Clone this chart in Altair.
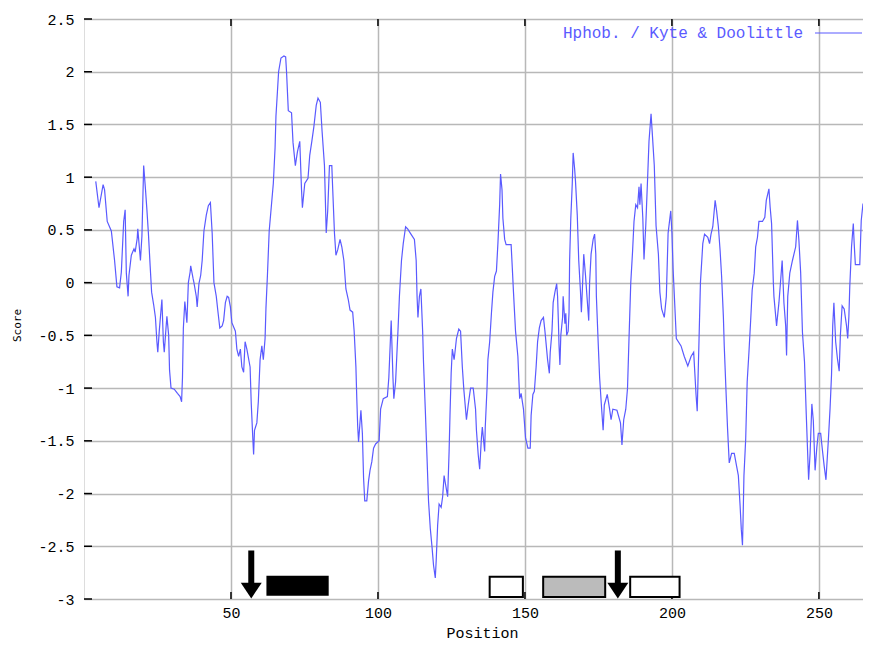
import altair as alt
import pandas as pd

positions = [
    4.0, 5.1, 6.5, 7.0, 7.9, 9.3, 10.4, 11.2, 12.1, 12.7, 13.5, 14.0, 14.4, 15.0, 15.3, 16.1, 17.0, 17.4,
    18.1, 18.3, 19.2, 19.7, 20.3, 20.9, 21.4, 21.9, 22.5, 23.0, 23.7, 24.3, 24.8, 25.1, 25.6, 26.2, 26.5,
    27.0, 27.3, 27.9, 28.2, 28.8, 29.1, 29.6, 30.7, 31.8, 32.7, 33.2, 33.5, 33.8, 34.3, 34.6, 35.0, 35.5,
    36.1, 36.3, 37.1, 37.4, 38.2, 38.5, 39.1, 39.7, 40.2, 40.8, 41.6, 42.3, 43.0, 43.6, 44.2, 45.0, 45.5,
    46.2, 47.0, 47.5, 48.1, 48.7, 49.2, 49.8, 50.3, 51.5, 52.0, 52.6, 53.2, 53.7, 54.3, 54.8, 55.4, 56.5,
    56.9, 57.4, 57.7, 58.0, 58.8, 59.3, 59.9, 60.5, 61.0, 61.6, 61.9, 62.4, 63.0, 64.4, 65.0, 65.3, 65.8,
    66.2, 67.0, 68.0, 68.6, 68.9, 69.5, 70.6, 71.1, 71.9, 72.6, 73.4, 74.0, 74.3, 75.1, 76.2, 76.8, 77.5,
    78.2, 79.0, 79.6, 80.4, 81.0, 81.8, 82.4, 82.9, 83.5, 84.3, 84.6, 85.2, 85.7, 86.3, 87.1, 87.7, 88.4,
    89.1, 89.9, 90.5, 91.4, 91.9, 92.5, 92.8, 93.1, 93.4, 93.8, 94.2, 94.7, 95.1, 95.5, 96.2, 96.8, 97.3,
    97.9, 98.5, 99.2, 100.4, 100.9, 101.8, 103.2, 103.7, 104.5, 105.1, 105.4, 106.0, 106.8, 107.3, 108.0,
    108.6, 109.4, 110.1, 111.0, 112.4, 113.0, 113.3, 113.6, 114.1, 114.6, 115.2, 115.5, 116.1, 116.7,
    117.2, 117.8, 118.4, 118.9, 119.5, 119.8, 120.3, 120.8, 121.5, 122.0, 122.5, 123.1, 123.7, 124.2,
    124.5, 124.9, 125.3, 125.9, 126.2, 126.7, 127.5, 128.1, 128.7, 129.2, 130.1, 130.7, 131.5, 132.4,
    133.2, 133.5, 134.1, 134.6, 135.2, 135.5, 136.3, 136.5, 137.1, 137.4, 138.0, 138.6, 139.1, 139.7,
    140.3, 140.8, 141.4, 141.7, 142.2, 142.5, 143.1, 143.6, 145.3, 145.7, 146.1, 146.8, 147.6, 148.2,
    148.7, 149.5, 150.2, 151.0, 151.8, 152.1, 152.7, 153.2, 153.8, 154.3, 154.9, 155.5, 156.3, 156.8,
    157.7, 158.3, 158.6, 159.2, 159.6, 160.2, 160.8, 161.1, 161.4, 161.6, 161.9, 162.2, 162.8, 163.0,
    163.6, 163.9, 164.2, 164.7, 165.0, 165.2, 165.6, 166.1, 166.4, 166.9, 167.2, 167.8, 168.3, 168.9,
    169.2, 169.5, 170.0, 170.6, 171.1, 171.7, 172.0, 172.5, 173.2, 173.7, 174.1, 174.3, 174.9, 175.4,
    176.0, 176.6, 177.0, 178.0, 178.8, 179.3, 179.9, 181.3, 182.5, 183.0, 183.6, 184.3, 184.9, 185.4,
    186.0, 186.6, 187.1, 187.7, 188.3, 188.8, 189.1, 189.5, 190.1, 190.5, 191.1, 191.8, 192.2, 192.9,
    193.4, 194.0, 194.6, 195.4, 195.9, 196.5, 197.4, 198.1, 198.7, 199.6, 200.0, 200.4, 201.5, 203.1,
    204.2, 205.4, 206.5, 207.4, 208.2, 208.6, 209.2, 209.7, 210.5, 211.1, 212.2, 212.8, 213.3, 213.9,
    214.7, 215.2, 215.8, 216.4, 216.9, 217.5, 217.8, 218.4, 218.9, 219.5, 220.3, 221.2, 222.0, 222.6,
    223.2, 223.6, 224.0, 224.2, 224.5, 225.1, 225.6, 226.2, 226.8, 227.3, 228.0, 228.5, 229.1, 229.6,
    230.8, 231.6, 232.1, 233.0, 233.4, 233.9, 234.5, 234.7, 235.6, 236.4, 237.5, 238.1, 238.7, 239.0,
    239.4, 240.1, 241.0, 242.1, 242.7, 243.2, 243.8, 244.4, 245.1, 245.7, 246.1, 246.5, 247.0, 247.6,
    248.1, 248.7, 249.3, 249.8, 250.6, 251.2, 251.8, 252.4, 253.2, 253.8, 254.3, 254.7, 255.1, 255.7,
    256.3, 256.9, 257.3, 257.9, 258.6, 259.4, 259.8, 260.2, 260.5, 261.1, 261.7, 262.0, 262.4, 263.9,
    264.4, 265.0,
]

scores = [
    0.96, 0.71, 0.93, 0.88, 0.58, 0.49, 0.21, -0.04, -0.05, 0.10, 0.58, 0.69, 0.09, -0.13, 0.07, 0.26, 0.32, 0.29,
    0.42, 0.51, 0.21, 0.44, 1.11, 0.89, 0.69, 0.47, 0.16, -0.09, -0.21, -0.33, -0.56, -0.66, -0.46, -0.26, -0.16,
    -0.56, -0.66, -0.43, -0.32, -0.50, -0.83, -1.00, -1.01, -1.05, -1.08, -1.13, -0.90, -0.43, -0.18, -0.26, -0.38, 0.00,
    0.10, 0.16, 0.04, 0.00, -0.13, -0.23, -0.01, 0.07, 0.21, 0.49, 0.64, 0.73, 0.76, 0.47, 0.00, -0.13, -0.26,
    -0.43, -0.41, -0.36, -0.19, -0.13, -0.14, -0.23, -0.38, -0.46, -0.63, -0.70, -0.63, -0.80, -0.85, -0.56, -0.63, -0.80,
    -1.15, -1.46, -1.63, -1.40, -1.33, -1.13, -0.73, -0.60, -0.73, -0.53, -0.24, 0.07, 0.49, 0.94, 1.28, 1.58, 1.81,
    2.00, 2.13, 2.15, 2.14, 2.00, 1.63, 1.61, 1.33, 1.11, 1.24, 1.34, 0.88, 0.71, 0.94, 0.99, 1.21, 1.34,
    1.48, 1.68, 1.75, 1.71, 1.43, 1.11, 0.47, 0.68, 1.11, 1.11, 0.89, 0.47, 0.26, 0.31, 0.41, 0.34, 0.21,
    -0.06, -0.16, -0.26, -0.28, -0.46, -0.80, -1.10, -1.36, -1.51, -1.36, -1.21, -1.43, -1.85, -2.07, -2.07, -1.88, -1.78,
    -1.70, -1.57, -1.53, -1.50, -1.20, -1.10, -1.08, -0.90, -0.36, -0.90, -1.10, -0.94, -0.46, -0.13, 0.21,
    0.37, 0.53, 0.51, 0.47, 0.41, 0.21, -0.13, -0.33, -0.13, -0.06, -0.46, -0.76, -1.20, -1.67,
    -2.07, -2.33, -2.51, -2.68, -2.80, -2.64, -2.30, -2.10, -2.13, -2.03, -1.83, -1.93, -2.03, -1.60,
    -1.26, -0.86, -0.63, -0.73, -0.66, -0.53, -0.44, -0.46, -0.80, -1.01, -1.30, -1.16, -1.00, -1.00,
    -1.20, -1.40, -1.63, -1.77, -1.47, -1.37, -1.60, -1.37, -1.00, -0.73, -0.56, -0.29, -0.09, 0.06,
    0.11, 0.37, 0.74, 1.03, 0.88, 0.61, 0.41, 0.36, 0.36, 0.14, -0.09, -0.46, -0.70, -1.10,
    -1.05, -1.20, -1.47, -1.57, -1.57, -1.26, -1.06, -1.03, -0.80, -0.56, -0.43, -0.36, -0.33, -0.46,
    -0.73, -0.86, -0.66, -0.46, -0.19, -0.09, -0.01, -0.13, -0.39, -0.60, -0.78, -0.50, -0.33, -0.13,
    -0.39, -0.29, -0.50, -0.46, -0.28, 0.21, 0.61, 0.94, 1.23, 1.08, 0.96, 0.64, 0.21, -0.09,
    -0.28, -0.09, 0.27, 0.07, -0.13, -0.36, 0.00, 0.27, 0.41, 0.46, 0.27, -0.13, -0.56, -0.90,
    -1.16, -1.40, -1.16, -1.06, -1.20, -1.30, -1.20, -1.21, -1.33, -1.54, -1.30, -1.20, -1.00, -0.53,
    0.00, 0.29, 0.58, 0.74, 0.71, 0.91, 0.74, 0.94, 0.61, 0.22, 0.54, 1.04, 1.34, 1.60,
    1.38, 1.11, 0.54, 0.27, -0.09, -0.25, -0.33, -0.13, 0.47, 0.68, 0.47, 0.13, -0.53, -0.60,
    -0.70, -0.79, -0.70, -0.66, -1.06, -1.22, -0.56, 0.00, 0.37, 0.46, 0.43, 0.37, 0.46, 0.53,
    0.78, 0.68, 0.53, 0.30, 0.06, -0.32, -0.60, -1.03, -1.37, -1.71, -1.62, -1.62, -1.74, -1.83,
    -2.12, -2.34, -2.49, -2.25, -1.83, -1.48, -0.94, -0.66, -0.35, -0.07, 0.09, 0.34, 0.43, 0.58,
    0.58, 0.62, 0.78, 0.89, 0.72, 0.56, 0.00, -0.13, -0.41, -0.19, 0.21, -0.19, -0.41, -0.69,
    -0.13, 0.09, 0.21, 0.34, 0.59, 0.40, 0.09, -0.47, -0.75, -1.25, -1.56, -1.87, -1.62, -1.15,
    -1.31, -1.78, -1.56, -1.43, -1.43, -1.59, -1.74, -1.87, -1.50, -1.19, -0.87, -0.41, -0.19, -0.56,
    -0.72, -0.84, -0.50, -0.22, -0.25, -0.41, -0.53, -0.32, -0.04, 0.34, 0.56, 0.37, 0.17, 0.17,
    0.59, 0.75,
]

y_ticks = [2.5, 2.0, 1.5, 1.0, 0.5, 0.0, -0.5, -1.0, -1.5, -2.0, -2.5, -3.0]
x_ticks = [50, 100, 150, 200, 250]

feature_start = [62.4, 138.0, 156.2, 185.8]
feature_end = [82.9, 149.3, 177.3, 202.6]
feature_top = [-2.79, -2.79, -2.79, -2.79]
feature_bottom = [-2.96, -2.98, -2.98, -2.98]
feature_fill = ["#000000", "#ffffff", "#bbbbbb", "#ffffff"]

arrow_pos = [56.9, 181.6]
arrow_top = [-2.54, -2.54]
arrow_head = [-2.92, -2.92]

legend_label = "Hphob. / Kyte & Doolittle"

LINE = "#5a5aff"
FONT = "Liberation Mono"
W, H = 779, 580

xs = alt.Scale(domain=[0, 265], nice=False, zero=False)
ys = alt.Scale(domain=[-3, 2.5], nice=False, zero=False)

profile = pd.DataFrame({"pos": positions, "score": scores})
feats = pd.DataFrame({"start": feature_start, "end": feature_end, "top": feature_top,
                      "bottom": feature_bottom, "fill": feature_fill})
arrows = pd.DataFrame({"pos": arrow_pos, "top": arrow_top, "head": arrow_head})
yt = pd.DataFrame({"v": y_ticks})
xt = pd.DataFrame({"v": x_ticks})

line = alt.Chart(profile).mark_line(color=LINE, strokeWidth=1.2).encode(
    x=alt.X("pos:Q", scale=xs, axis=alt.Axis(
        values=x_ticks, grid=True, gridColor="#b8b8b8", gridWidth=1.5, ticks=False, domain=False,
        labelFont=FONT, labelFontSize=15, labelColor="black", labelPadding=6,
        title="Position", titleFont=FONT, titleFontSize=15, titleFontWeight="normal", titleColor="black",
        titleX=398, titleY=33, titleAlign="center", titleBaseline="middle")),
    y=alt.Y("score:Q", scale=ys, axis=alt.Axis(
        values=y_ticks, grid=True, gridColor="#b8b8b8", gridWidth=1.5, ticks=False, domain=False,
        labelFont=FONT, labelFontSize=15, labelColor="black", labelPadding=10,
        labelExpr="'' + datum.value",
        title="Score", titleFont="DejaVu Sans Mono", titleFontSize=11, titleFontWeight="normal",
        titleColor="black",
        titleX=-67, titleY=306, titleAngle=-90, titleAlign="center", titleBaseline="middle")),
    order="pos:Q",
)

ytick_rules = alt.Chart(yt).mark_rule(color="black", strokeWidth=1.5).encode(
    y=alt.Y("v:Q", scale=ys), x=alt.value(0), x2=alt.value(8))
xtick_bottom = alt.Chart(xt).mark_rule(color="black", strokeWidth=1.5).encode(
    x=alt.X("v:Q", scale=xs), y=alt.value(H), y2=alt.value(H - 7))
xtick_top = alt.Chart(xt).mark_rule(color="black", strokeWidth=1.5).encode(
    x=alt.X("v:Q", scale=xs), y=alt.value(0), y2=alt.value(7))

rects = alt.Chart(feats).mark_rect(stroke="black", strokeWidth=2).encode(
    x=alt.X("start:Q", scale=xs), x2="end:Q",
    y=alt.Y("top:Q", scale=ys), y2="bottom:Q",
    fill=alt.Fill("fill:N", scale=None),
)

shafts = alt.Chart(arrows).mark_rule(color="black", strokeWidth=6).encode(
    x=alt.X("pos:Q", scale=xs), y=alt.Y("top:Q", scale=ys), y2="head:Q")
heads = alt.Chart(arrows).mark_point(
    shape="M-1,-0.75L1,-0.75L0,0.75Z", filled=True, color="black", opacity=1, size=441
).encode(x=alt.X("pos:Q", scale=xs), y=alt.Y("head:Q", scale=ys))

legend_text = alt.Chart(alt.Data(values=[{}])).mark_text(
    align="right", baseline="middle", font=FONT, fontSize=16, color=LINE
).encode(x=alt.value(719), y=alt.value(14), text=alt.value(legend_label))
legend_line = alt.Chart(alt.Data(values=[{}])).mark_rule(color=LINE, strokeWidth=1.2).encode(
    x=alt.value(731), x2=alt.value(778), y=alt.value(14))

chart = alt.layer(
    line, ytick_rules, xtick_bottom, xtick_top, rects, shafts, heads, legend_text, legend_line
).properties(
    width=W, height=H,
    padding={"left": 76, "top": 11, "right": 0, "bottom": 44},
    autosize=alt.AutoSizeParams(type="none"),
).configure_view(stroke="black", strokeWidth=1.5).configure(background="white")

chart.save("out.html", embed_options={"renderer": "svg", "actions": False})
